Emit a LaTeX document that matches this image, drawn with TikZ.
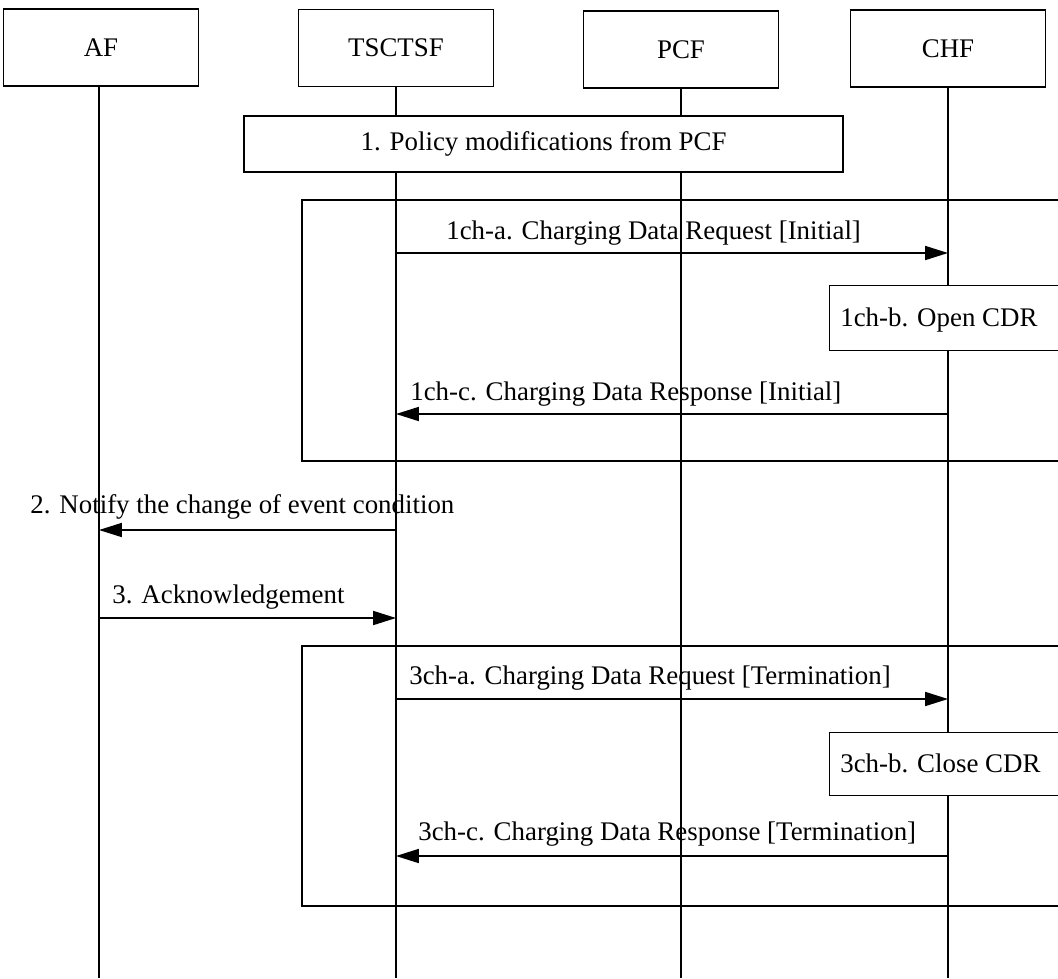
\documentclass[tikz,border=0pt]{standalone}
\usepackage{fontspec}
\setmainfont{Liberation Serif}
\usetikzlibrary{arrows.meta}

\begin{document}
\begin{tikzpicture}[x=0.02cm, y=-0.02cm,
  every node/.style={font=\fontsize{15.3}{18}\selectfont},
  entity/.style={draw, line width=0.8pt, minimum width=3.9cm, minimum height=1.54cm},
  msg/.style={line width=0.8pt, -{Triangle[length=13pt, width=8pt]}},
  lbl/.style={anchor=base west, inner sep=0pt},
  action/.style={draw, line width=0.8pt, fill=white, anchor=north west, minimum width=5cm, minimum height=#1, inner sep=0pt},
  frame/.style={draw, line width=0.8pt}]
  \useasboundingbox (0,0) rectangle (1058,978);
  \clip (0,0) rectangle (1058,978);

  % entities
  \node[entity] (af) at (101,47.5) {AF};
  \node[entity] (tsctsf) at (396,48) {TSCTSF};
  \node[entity] (pcf) at (681,49.5) {PCF};
  \node[entity] (chf) at (948,48.5) {CHF};

  % lifelines
  \coordinate (afend) at (99,978);
  \coordinate (tscend) at (396,978);
  \coordinate (pcfend) at (681,978);
  \coordinate (chfend) at (948,978);
  \draw[line width=0.8pt] (af.south -| afend) -- (afend);
  \draw[line width=0.8pt] (tsctsf.south) -- (tscend);
  \draw[line width=0.8pt] (pcf.south) -- (pcfend);
  \draw[line width=0.8pt] (chf.south) -- (chfend);

  % step 1
  \node[draw, line width=1.4pt, fill=white, minimum width=11.98cm, minimum height=1.12cm] (policy) at (543.5,144) {1. Policy modifications from PCF};

  % charging at start
  \draw[frame] (302,200) rectangle (1080,461);
  \coordinate (t1a) at (396,253);
  \coordinate (c1a) at (948,253);
  \draw[msg] (t1a) -- (c1a);
  \node[lbl] (l1a) at (446,239) {1ch-a. Charging Data Request [Initial]};
  \node[action=1.3cm] (open) at (829,285) {};
  \node[lbl] (l1b) at (840,326.5) {1ch-b. Open CDR};
  \coordinate (c1c) at (948,414);
  \coordinate (t1c) at (396,414);
  \draw[msg] (c1c) -- (t1c);
  \node[lbl] (l1c) at (410,400) {1ch-c. Charging Data Response [Initial]};

  % notify AF
  \coordinate (t2) at (396,530);
  \coordinate (a2) at (99,530);
  \draw[msg] (t2) -- (a2);
  \node[lbl] (l2) at (30,513) {2. Notify the change of event condition};
  \coordinate (a3) at (99,618);
  \coordinate (t3) at (396,618);
  \draw[msg] (a3) -- (t3);
  \node[lbl] (l3) at (112,603) {3. Acknowledgement};

  % charging at end
  \draw[frame] (302,646) rectangle (1080,906);
  \coordinate (t3a) at (396,699);
  \coordinate (c3a) at (948,699);
  \draw[msg] (t3a) -- (c3a);
  \node[lbl] (l3a) at (409,684) {3ch-a. Charging Data Request [Termination]};
  \node[action=1.26cm] (close) at (829,732) {};
  \node[lbl] (l3b) at (840,772) {3ch-b. Close CDR};
  \coordinate (c3c) at (948,856);
  \coordinate (t3c) at (396,856);
  \draw[msg] (c3c) -- (t3c);
  \node[lbl] (l3c) at (418,840) {3ch-c. Charging Data Response [Termination]};
\end{tikzpicture}
\end{document}
